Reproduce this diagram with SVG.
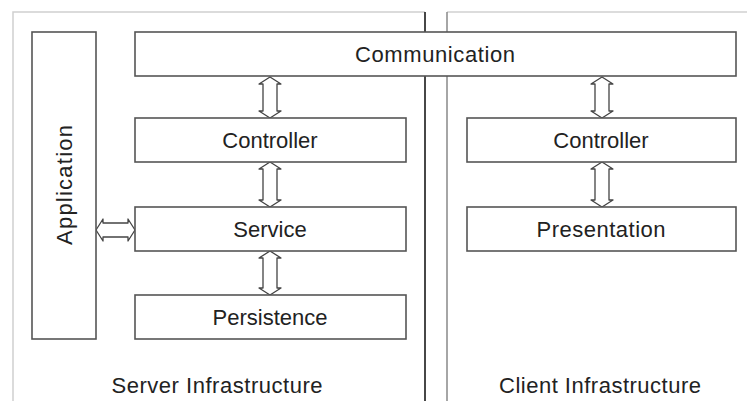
<svg xmlns="http://www.w3.org/2000/svg" width="747" height="401" viewBox="0 0 747 401">
<style>
.box{fill:#fff;stroke:#555;stroke-width:1.6}
.frame{fill:none;stroke:#d0d0d0;stroke-width:1.5}
.t{font-family:"Liberation Sans",Arial,sans-serif;font-size:22px;fill:#222;text-anchor:middle}
.arr{fill:#fff;stroke:#444;stroke-width:1.3;stroke-linejoin:round}
</style>
<rect width="747" height="401" fill="#fff"/>
<g id="frames">
<path class="frame" d="M13,401 V12 H425"/>
<path class="frame" d="M447,12 H747"/>
<line x1="425" y1="12" x2="425" y2="401" stroke="#333" stroke-width="1.8"/>
<line x1="447" y1="12" x2="447" y2="401" stroke="#888" stroke-width="1.5"/>
<text class="t" x="217" y="393" textLength="211" lengthAdjust="spacing">Server Infrastructure</text>
<text class="t" x="600" y="393" textLength="202" lengthAdjust="spacing">Client Infrastructure</text>
</g>
<g id="connectors">
<path class="arr" d="M270,77 L281,84 L277,84 L277,111 L281,111 L270,118 L259,111 L263,111 L263,84 L259,84 Z"/>
<path class="arr" d="M270,162 L281,169 L277,169 L277,200 L281,200 L270,207 L259,200 L263,200 L263,169 L259,169 Z"/>
<path class="arr" d="M270,251 L281,258 L277,258 L277,288 L281,288 L270,295 L259,288 L263,288 L263,258 L259,258 Z"/>
<path class="arr" d="M602,77 L613,84 L609,84 L609,111 L613,111 L602,118 L591,111 L595,111 L595,84 L591,84 Z"/>
<path class="arr" d="M602,162 L613,169 L609,169 L609,200 L613,200 L602,207 L591,200 L595,200 L595,169 L591,169 Z"/>
<path class="arr" d="M96,230 L103,219 L103,223 L128,223 L128,219 L135,230 L128,241 L128,237 L103,237 L103,241 Z"/>
</g>
<g id="application">
<rect class="box" x="32" y="32" width="64" height="307"/>
<text class="t" transform="translate(72,185) rotate(-90)" x="0" y="0" textLength="120" lengthAdjust="spacing">Application</text>
</g>
<g id="communication">
<rect class="box" x="135" y="32" width="601" height="44"/>
<text class="t" x="435" y="62" textLength="160" lengthAdjust="spacing">Communication</text>
</g>
<g id="server-controller">
<rect class="box" x="135" y="118" width="271" height="44"/>
<text class="t" x="270" y="148">Controller</text>
</g>
<g id="service">
<rect class="box" x="135" y="207" width="271" height="44"/>
<text class="t" x="270" y="237">Service</text>
</g>
<g id="persistence">
<rect class="box" x="135" y="295" width="271" height="44"/>
<text class="t" x="270" y="325">Persistence</text>
</g>
<g id="client-controller">
<rect class="box" x="467" y="118" width="269" height="44"/>
<text class="t" x="601" y="148">Controller</text>
</g>
<g id="presentation">
<rect class="box" x="467" y="207" width="269" height="44"/>
<text class="t" x="601" y="237" textLength="129" lengthAdjust="spacing">Presentation</text>
</g>
</svg>
